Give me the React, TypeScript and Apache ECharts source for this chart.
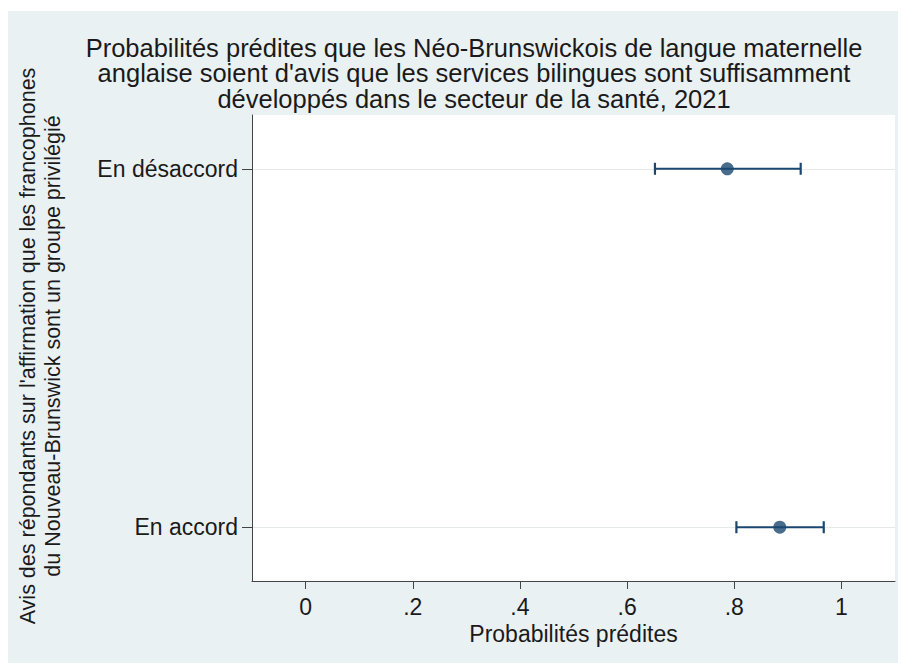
import React, { useEffect, useRef } from "react";
import * as echarts from "echarts";

const categories = ["En accord", "En désaccord"];
const categoryPositions = [0, 1];
const estimates = [0.885, 0.787];
const lowerCI = [0.804, 0.652];
const upperCI = [0.967, 0.924];
const xTicks = [0, 0.2, 0.4, 0.6, 0.8, 1];
const xTickLabels = ["0", ".2", ".4", ".6", ".8", "1"];

const titleLines = [
  "Probabilités prédites que les Néo-Brunswickois de langue maternelle",
  "anglaise soient d'avis que les services bilingues sont suffisamment",
  "développés dans le secteur de la santé, 2021",
];
const yTitleLines = [
  "Avis des répondants sur l'affirmation que les francophones",
  "du Nouveau-Brunswick sont un groupe privilégié",
];
const xTitle = "Probabilités prédites";

const FONT = "'Liberation Sans', Arial, sans-serif";
const NAVY = "#1a476f";
const TEXT = "#1a1a1a";

export default function App() {
  const ref = useRef<HTMLDivElement>(null);
  useEffect(() => {
    if (!ref.current) return;
    const chart = echarts.init(ref.current, null, { renderer: "svg" });
    const ciData = categoryPositions.map((p, i) => [p, lowerCI[i], upperCI[i]]);
    const pointData = categoryPositions.map((p, i) => [estimates[i], p]);
    chart.setOption({
      animation: false,
      backgroundColor: "#eaf1f3",
      textStyle: { fontFamily: FONT },
      title: {
        text: titleLines.join("\n"),
        left: 461,
        top: 19,
        textAlign: "center",
        textStyle: { fontFamily: FONT, fontSize: 25.5, fontWeight: "normal", color: TEXT, lineHeight: 25.5 },
      },
      graphic: [
        {
          type: "text",
          x: 32,
          y: 335,
          rotation: Math.PI / 2,
          style: {
            text: yTitleLines.join("\n"),
            fontFamily: FONT,
            fontSize: 21.5,
            lineHeight: 25,
            fill: TEXT,
            align: "center",
            verticalAlign: "middle",
          },
        },
      ],
      grid: { left: 244, right: 11, top: 104, bottom: 82, backgroundColor: "#ffffff", show: true, borderWidth: 0 },
      xAxis: {
        type: "value",
        min: -0.1,
        max: 1.1,
        name: xTitle,
        nameLocation: "middle",
        nameGap: 38,
        nameTextStyle: { fontFamily: FONT, fontSize: 23, color: TEXT },
        axisLine: { show: true, onZero: false, lineStyle: { color: "#444", width: 1 } },
        axisTick: { show: true, length: 8, customValues: xTicks, lineStyle: { color: "#444" } },
        axisLabel: {
          customValues: xTicks,
          margin: 14,
          fontFamily: FONT,
          fontSize: 23,
          color: TEXT,
          formatter: (v: number) => {
            const i = xTicks.findIndex((t) => Math.abs(t - v) < 1e-9);
            return i >= 0 ? xTickLabels[i] : "";
          },
        },
        splitLine: { show: false },
      },
      yAxis: {
        type: "value",
        min: -0.15,
        max: 1.15,
        axisLine: { show: true, onZero: false, lineStyle: { color: "#444", width: 1 } },
        axisTick: { show: true, length: 10, customValues: categoryPositions, lineStyle: { color: "#444" } },
        axisLabel: {
          customValues: categoryPositions,
          margin: 14,
          fontFamily: FONT,
          fontSize: 23,
          color: TEXT,
          formatter: (v: number) => {
            const i = categoryPositions.findIndex((t) => Math.abs(t - v) < 1e-9);
            return i >= 0 ? categories[i] : "";
          },
        },
        splitLine: { show: true, lineStyle: { color: "#e6e9ea", width: 1 } },
      },
      series: [
        {
          type: "custom",
          data: ciData,
          encode: { x: [1, 2], y: 0 },
          renderItem: (params: any, api: any) => {
            const y = api.value(0);
            const lo = api.coord([api.value(1), y]);
            const hi = api.coord([api.value(2), y]);
            const h = 6;
            const style = { stroke: NAVY, lineWidth: 2.2 };
            return {
              type: "group",
              children: [
                { type: "line", shape: { x1: lo[0], y1: lo[1], x2: hi[0], y2: hi[1] }, style },
                { type: "line", shape: { x1: lo[0], y1: lo[1] - h, x2: lo[0], y2: lo[1] + h }, style },
                { type: "line", shape: { x1: hi[0], y1: hi[1] - h, x2: hi[0], y2: hi[1] + h }, style },
              ],
            };
          },
          z: 2,
        },
        {
          type: "scatter",
          data: pointData,
          symbol: "circle",
          symbolSize: 13,
          itemStyle: { color: NAVY },
          z: 3,
        },
      ],
    });
    return () => chart.dispose();
  }, []);
  return <div ref={ref} style={{ width: 898, height: 652, marginTop: 3 }} />;
}
